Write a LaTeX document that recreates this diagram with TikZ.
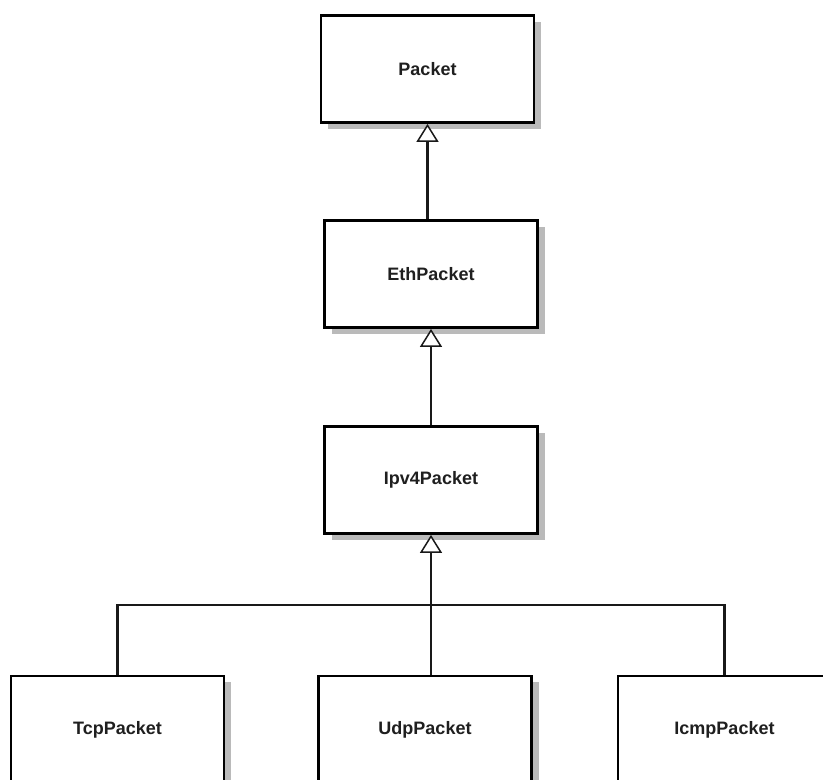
\documentclass[tikz,border=0pt]{standalone}
\usepackage{fontspec}
\setmainfont{Liberation Sans}
\usetikzlibrary{arrows.meta,shadows}
\begin{document}
\begin{tikzpicture}[x=1pt,y=-1pt,
  classbox/.style={draw=black, line width=2.8pt, fill=white,
    minimum width=213pt, minimum height=107pt, inner sep=0pt,
    text=black!88, font=\bfseries\fontsize{18}{21}\selectfont,
    drop shadow={shadow xshift=7pt, shadow yshift=-6pt, fill=black!27, opacity=1, draw=none}},
  link/.style={draw=black!90, line width=2.5pt},
  inherit/.style={link, -{Triangle[length=18pt, width=22pt, fill=white, line width=1.5pt]}}]
  \useasboundingbox (0,0) rectangle (823,780);
  \clip (0,0) rectangle (823,780);
  \fill[white] (0,0) rectangle (823,780);

  % class boxes
  \node[classbox] (packet) at (427.5,69) {Packet};
  \node[classbox] (eth)    at (431,274)  {EthPacket};
  \node[classbox] (ipv4)   at (431,480)  {Ipv4Packet};
  \node[classbox] (tcp)    at (117.5,729.5) {TcpPacket};
  \node[classbox] (udp)    at (425,729.5)   {UdpPacket};
  \node[classbox] (icmp)   at (724.5,729.5) {IcmpPacket};

  % bus joining the three subclasses
  \coordinate (bus) at (431,605);

  % generalisation links
  \draw[inherit] (packet.south |- eth.north) -- (packet.south);
  \draw[inherit] (eth.south |- ipv4.north) -- (eth.south);
  \draw[inherit] (ipv4.south |- udp.north) -- (ipv4.south);
  \draw[link] (tcp.north) |- (bus) -| (icmp.north);
\end{tikzpicture}
\end{document}
